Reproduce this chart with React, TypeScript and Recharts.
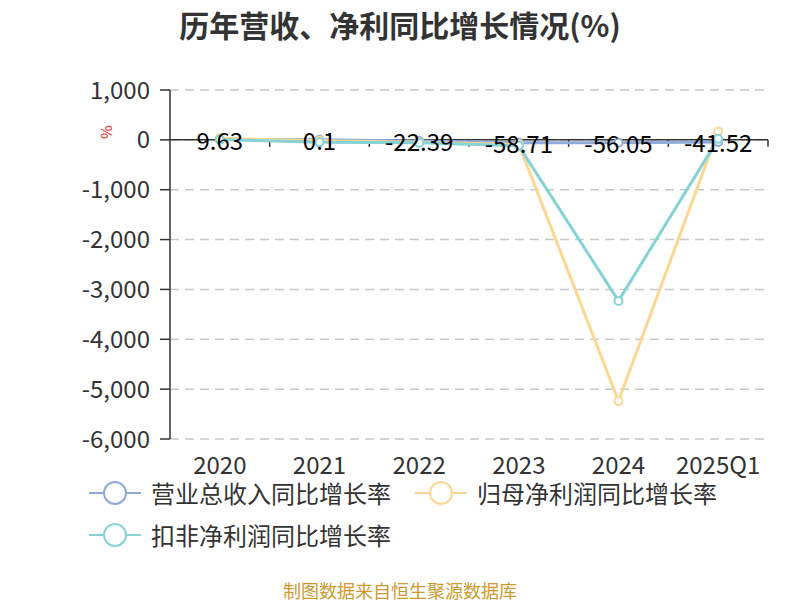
import React from "react";
import {
  LineChart,
  Line,
  XAxis,
  YAxis,
  CartesianGrid,
  ReferenceLine,
} from "recharts";

const categories = ["2020", "2021", "2022", "2023", "2024", "2025Q1"];
const revenueGrowth = [9.63, 0.1, -22.39, -58.71, -56.05, -41.52];
const parentProfitGrowth = [30, -20, -50, -90, -5240, 170];
const deductedProfitGrowth = [5, -50, -60, -120, -3230, 20];
const yTicks = [1000, 0, -1000, -2000, -3000, -4000, -5000, -6000];

const FONT = "'Noto Sans CJK SC', 'Noto Sans', sans-serif";

const series = [
  { key: "revenue", label: "营业总收入同比增长率", color: "#8eaadb" },
  { key: "parent", label: "归母净利润同比增长率", color: "#fdd792" },
  { key: "deducted", label: "扣非净利润同比增长率", color: "#86d3d6" },
];

const data = categories.map((c, i) => ({
  category: c,
  revenue: revenueGrowth[i],
  parent: parentProfitGrowth[i],
  deducted: deductedProfitGrowth[i],
}));

// zero line with category boundary ticks (echarts style axis on y=0)
const ZeroAxis = (p: any) => {
  const { x1, y1, x2 } = p;
  const n = categories.length;
  const step = (x2 - x1) / n;
  const marks = [];
  for (let i = 1; i <= n; i++) {
    const x = x1 + step * i;
    marks.push(
      <line key={i} x1={x} y1={y1} x2={x} y2={y1 + 7} stroke="#333" strokeWidth={1.5} />
    );
  }
  return (
    <g>
      <line x1={x1} y1={y1} x2={x2} y2={y1} stroke="#333" strokeWidth={1.5} />
      {marks}
    </g>
  );
};

const ValueLabel = (p: any) => {
  const { x, y, value } = p;
  return (
    <text
      x={x}
      y={y}
      textAnchor="middle"
      dominantBaseline="central"
      fontSize={24}
      fill="#000"
      fontFamily={FONT}
    >
      {value}
    </text>
  );
};

const LegendItem = ({ color, label }: { color: string; label: string }) => (
  <div style={{ display: "flex", alignItems: "center", height: 26 }}>
    <svg width={52} height={26} style={{ marginRight: 10 }}>
      <line x1={0} y1={13} x2={52} y2={13} stroke={color} strokeWidth={2} />
      <circle cx={26} cy={13} r={11} fill="#fff" stroke={color} strokeWidth={2} />
    </svg>
    <span style={{ fontSize: 24, lineHeight: "26px", color: "#333", fontFamily: FONT }}>
      {label}
    </span>
  </div>
);

export default function App() {
  return (
    <div
      style={{
        position: "absolute",
        left: 0,
        top: 0,
        width: 800,
        height: 600,
        background: "#fff",
        fontFamily: FONT,
      }}
    >
      <div
        style={{
          position: "absolute",
          top: 6,
          left: 0,
          width: 800,
          textAlign: "center",
          fontSize: 30,
          lineHeight: "36px",
          fontWeight: 700,
          color: "#333",
        }}
      >
        历年营收、净利同比增长情况(%)
      </div>
      <div
        style={{
          position: "absolute",
          left: 99,
          top: 122,
          fontSize: 15,
          lineHeight: "20px",
          color: "#e8221a",
          transform: "rotate(-90deg)",
        }}
      >
        %
      </div>
      <LineChart
        width={800}
        height={600}
        data={data}
        margin={{ top: 90, right: 32, left: 0, bottom: 121 }}
        style={{ position: "absolute", left: 0, top: 0 }}
      >
        <CartesianGrid
          vertical={false}
          stroke="#c8c8c8"
          strokeWidth={1.5}
          strokeDasharray="9 6"
        />
        <XAxis
          dataKey="category"
          scale="band"
          axisLine={false}
          tickLine={false}
          height={40}
          tickMargin={12}
          tick={{ fontSize: 24, fill: "#333", fontFamily: FONT }}
          interval={0}
        />
        <YAxis
          width={170}
          domain={[-6000, 1000]}
          ticks={yTicks}
          interval={0}
          tickFormatter={(v: number) => v.toLocaleString("en-US")}
          tick={{ fontSize: 24, fill: "#333", fontFamily: FONT }}
          axisLine={{ stroke: "#333", strokeWidth: 1.5 }}
          tickLine={{ stroke: "#333", strokeWidth: 1.5 }}
          tickSize={10}
          tickMargin={10}
        />
        <ReferenceLine y={0} shape={ZeroAxis} />
        {series.map((s) => (
          <Line
            key={s.key}
            type="linear"
            dataKey={s.key}
            name={s.label}
            stroke={s.color}
            strokeWidth={3}
            dot={{ r: 4, fill: "#fff", stroke: s.color, strokeWidth: 2 }}
            activeDot={false}
            isAnimationActive={false}
          />
        ))}
        <Line
          dataKey="revenue"
          stroke="none"
          dot={false}
          activeDot={false}
          legendType="none"
          label={ValueLabel}
          isAnimationActive={false}
        />
      </LineChart>
      <div style={{ position: "absolute", left: 89, top: 480, display: "flex" }}>
        <LegendItem color={series[0].color} label={series[0].label} />
        <div style={{ width: 24 }} />
        <LegendItem color={series[1].color} label={series[1].label} />
      </div>
      <div style={{ position: "absolute", left: 89, top: 522, display: "flex" }}>
        <LegendItem color={series[2].color} label={series[2].label} />
      </div>
      <div
        style={{
          position: "absolute",
          top: 580,
          left: 0,
          width: 800,
          textAlign: "center",
          fontSize: 18,
          lineHeight: "20px",
          color: "#cc9a2e",
        }}
      >
        制图数据来自恒生聚源数据库
      </div>
    </div>
  );
}
